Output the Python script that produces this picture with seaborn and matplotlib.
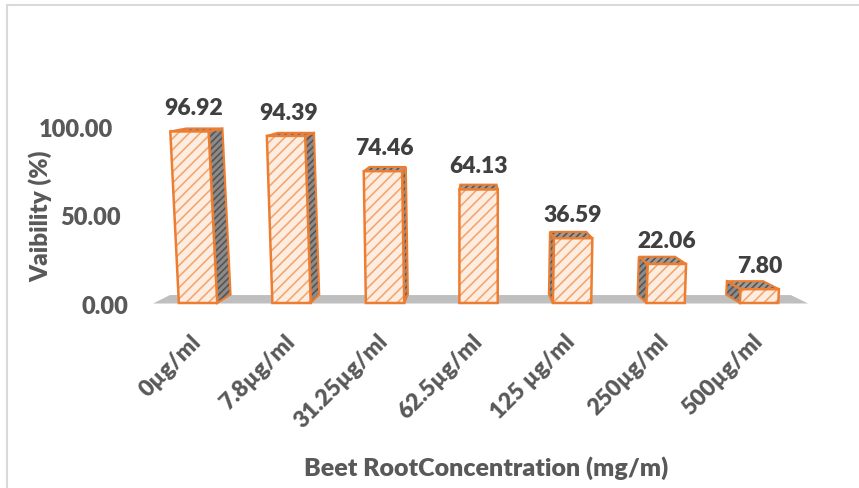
import numpy as np
import pandas as pd
import matplotlib
matplotlib.use("Agg")
import matplotlib.pyplot as plt
from matplotlib.patches import Polygon, Rectangle
from matplotlib.transforms import Affine2D, blended_transform_factory
import seaborn as sns

# Cell viability at each beet root extract concentration
concentrations = ["0µg/ml", "7.8µg/ml", "31.25µg/ml", "62.5µg/ml",
                  "125 µg/ml", "250µg/ml", "500µg/ml"]
viability = [96.92, 94.39, 74.46, 64.13, 36.59, 22.06, 7.80]
y_ticks = [0, 50, 100]
y_tick_labels = ["0.00", "50.00", "100.00"]

df = pd.DataFrame({"conc": concentrations, "viab": viability})

sns.set_theme(style="white")
plt.rcParams["font.family"] = ["Lato", "DejaVu Sans"]
plt.rcParams["hatch.linewidth"] = 1.2
WEIGHT = "heavy"

ORANGE = "#ED7D31"
HATCH = "#F2A771"
FILL = "#FDEDE1"
SIDE = "#8E8A88"
TOP = "#A39A94"
SIDE_HATCH = "#555555"
FLOOR = "#BFBFBF"
TICK_TXT = "#595959"
LBL_TXT = "#404040"

fig = plt.figure(figsize=(8.59, 4.89), dpi=100)
W, H = fig.bbox.width, fig.bbox.height
ax = fig.add_axes([0.1723, 0.3675, 0.7707, 0.5176])

sns.barplot(data=df, x="conc", y="viab", ax=ax, color=FILL, saturation=1,
            edgecolor=HATCH, linewidth=0, width=0.41, hatch="///", zorder=4)

ax.set_xlim(-0.535, 6.545)
ax.set_ylim(-3, 140)

# oblique 3-D look: depth offsets pull points toward a vanishing point
# (display pixels, y up)
VX, VY = 475.0, H - 40.0
SX, SY = 0.052, 0.032
LEAN = 1.8e-4


def back(p):
    p = np.asarray(p, float)
    return p + np.array([SX * (VX - p[0]), SY * (VY - p[1])])


to_disp = ax.transData.transform
to_data = ax.transData.inverted().transform

# floor band under the bars
fl, fr = to_disp([[-0.48, -0.3], [6.525, -0.3]])
floor_pts = np.array([fl, fr, back(fr), back(fl)])
ax.add_patch(Polygon(to_data(floor_pts), closed=True, facecolor=FLOOR,
                     edgecolor="none", zorder=1))


def face(pts, fc):
    pts = to_data(np.array(pts))
    ax.add_patch(Polygon(pts, closed=True, facecolor=fc,
                         edgecolor=SIDE_HATCH, hatch="/////",
                         linewidth=0, zorder=2))
    ax.add_patch(Polygon(pts, closed=True, facecolor="none",
                         edgecolor=ORANGE, linewidth=1.5, zorder=3))


for bar in ax.patches[:len(viability)]:
    x0, y0 = bar.get_x(), bar.get_y()
    x1, y1 = x0 + bar.get_width(), y0 + bar.get_height()
    xb, yb = to_disp([(x0 + x1) / 2, y0])
    shear = LEAN * (xb - VX)
    lean = (Affine2D().translate(-xb, -yb)
            .skew(np.arctan(shear), 0).translate(xb, yb))
    bar.set_transform(ax.transData + lean)
    FL, FR, TL, TR = lean.transform(
        to_disp([[x0, y0], [x1, y0], [x0, y1], [x1, y1]]))
    if back(FR)[0] > FR[0]:
        face([FR, TR, back(TR), back(FR)], SIDE)
    if back(FL)[0] < FL[0]:
        face([FL, TL, back(TL), back(FL)], SIDE)
    face([TL, TR, back(TR), back(TL)], TOP)
    ax.add_patch(Rectangle((x0, y0), x1 - x0, y1 - y0, facecolor="none",
                           edgecolor=ORANGE, linewidth=1.8, zorder=5,
                           transform=ax.transData + lean))
    # value label centred halfway between bar foot and leaned top
    lx = xb + 0.25 * (TL[0] + TR[0] - 2 * xb)
    ax.annotate(f"{bar.get_height():.2f}", xy=to_data([lx, TL[1]]),
                xytext=(0, 17), textcoords="offset pixels", ha="center",
                va="baseline", fontsize=16.5, fontweight=WEIGHT,
                color=LBL_TXT, zorder=6)

sns.despine(ax=ax, left=True, bottom=True)
ax.grid(False)

# value axis labels, following the slanted wall edge
ax.set_yticks(y_ticks)
ax.set_yticklabels([])
ax.tick_params(axis="y", length=0)
ytrans = blended_transform_factory(fig.dpi_scale_trans, ax.transData)
for v, s in zip(y_ticks, y_tick_labels):
    xr = (128 - 0.15 * v) / fig.dpi
    ax.text(xr, v, s, transform=ytrans + Affine2D().translate(0, -3),
            ha="right", va="center", fontsize=17, fontweight=WEIGHT,
            color=TICK_TXT)

ax.set_xticks(range(len(concentrations)))
ax.set_xticklabels(concentrations, rotation=45, ha="right",
                   rotation_mode="anchor", fontsize=16.5, fontweight=WEIGHT,
                   color=TICK_TXT)
ax.tick_params(axis="x", length=0, pad=21)
for t in ax.get_xticklabels():
    t.set_va("center")

ax.set_xlabel("Beet RootConcentration (mg/m)", fontsize=18,
              fontweight=WEIGHT, color=TICK_TXT)
ax.xaxis.set_label_coords((486 - 148) / 662, (H - 468 - 179.7) / 253.1)
ax.xaxis.label.set_va("center")
ax.set_ylabel("Vaibility (%)", fontsize=17.5, fontweight=WEIGHT,
              color=TICK_TXT)
ax.yaxis.set_label_coords((40 - 148) / 662, (H - 216 - 179.7) / 253.1)
ax.yaxis.label.set_va("center")

# chart frame (top and left edges)
fig.add_artist(plt.Line2D([7 / W, 7 / W], [0, 1 - 6 / H], color="#D9D9D9",
                          linewidth=1.5, transform=fig.transFigure))
fig.add_artist(plt.Line2D([7 / W, 1], [1 - 6 / H, 1 - 6 / H],
                          color="#D9D9D9", linewidth=1.5,
                          transform=fig.transFigure))

fig.savefig("out.png", dpi=100)
